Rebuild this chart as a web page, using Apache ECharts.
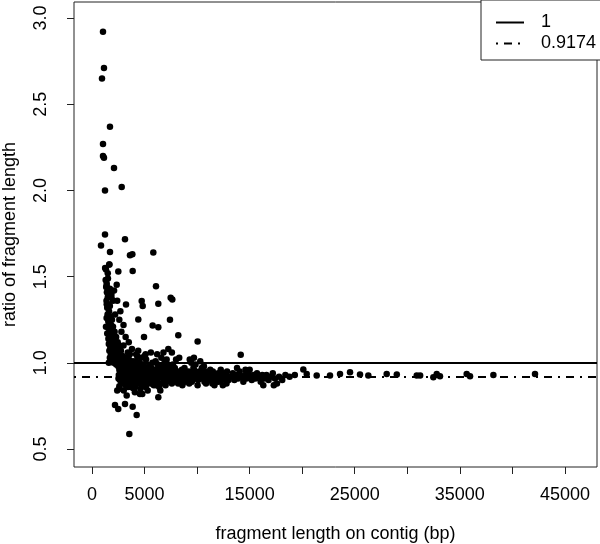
<!DOCTYPE html>
<html>
<head>
<meta charset="utf-8">
<script src="https://cdn.jsdelivr.net/npm/echarts@6/dist/echarts.min.js"></script>
<style>html,body{margin:0;padding:0;background:#fff}#c{width:600px;height:544px}</style>
</head>
<body>
<div id="c"></div>
<script>
// x tick values and labels (fragment length, bp)
const xTicks = [0, 5000, 10000, 15000, 20000, 25000, 30000, 35000, 40000, 45000];
const xTickLabels = [0, 5000, 15000, 25000, 35000, 45000];
// y tick values (ratio)
const yTicks = [0.5, 1.0, 1.5, 2.0, 2.5, 3.0];
// reference lines
const refLineNames = ['1', '0.9174'];
const refLineValues = [1, 0.9174];

// high-ratio points at short fragments
const outlierPoints = [
  [1047,2.92],[1140,2.71],[950,2.65],[1710,2.37],[1047,2.27],[1047,2.20],[1140,2.19],
  [2093,2.13],[1237,2.00],[2826,2.02],[1237,1.744],[3140,1.717],[856,1.68],[1713,1.643],
  [3615,1.624],[3840,1.63],[5833,1.64],[1330,1.542],[1650,1.57],[2505,1.53],[3870,1.533],
  [1520,1.49],[1400,1.446],[1700,1.43],[2350,1.453],[6090,1.444],[1520,1.40],[1850,1.38],
  [1400,1.34],[2000,1.36],[3235,1.339],[4730,1.359],[4825,1.33],[6310,1.343],[7485,1.378],
  [7640,1.368],[4405,1.252],[5770,1.217],[6310,1.207],[7420,1.25],[4950,1.15],[8210,1.16],
  [10050,1.124],[14150,1.047],[7260,1.08],[7600,1.06]
];
// dense stack just above the lines
const stackPoints = [
  [1300,1.48],[1350,1.44],[1420,1.41],[1500,1.38],[1380,1.36],[1560,1.34],[1450,1.32],[1700,1.33],
  [1620,1.30],[1480,1.28],[1750,1.27],[1390,1.26],[1900,1.25],[1550,1.24],[1680,1.23],[1820,1.22],
  [1330,1.21],[2000,1.21],[1600,1.20],[1750,1.19],[1900,1.18],[2150,1.18],[1450,1.17],[1680,1.16],
  [2050,1.16],[2300,1.15],[1560,1.14],[1850,1.14],[2200,1.13],[1700,1.12],[2000,1.12],[2450,1.12],
  [1600,1.11],[1900,1.10],[2250,1.10],[2600,1.10],[1750,1.09],[2100,1.08],[2400,1.08],[1650,1.07],
  [1950,1.07],[2750,1.07],[2250,1.06],[1800,1.05],[2550,1.05],[2000,1.04],[2350,1.04],[2900,1.04],
  [1700,1.03],[2150,1.03],[2650,1.02],[1900,1.02],[2450,1.01],[3100,1.01],[2050,1.00],[2800,1.00],
  [1600,1.00],[2300,0.99],[3300,0.99],[1500,1.52],[1250,1.55],[1650,1.57],[1400,1.46],[2100,1.42],
  [1850,1.40],[2400,1.36],[2700,1.30],[2200,1.28],[2600,1.25],[3000,1.22],[2800,1.18],[3200,1.15],
  [3500,1.12],[3000,1.10],[3800,1.08],[3400,1.06],[4200,1.05],[3600,1.05],[4400,1.07],[5000,1.04],
  [5600,1.06],[6200,1.05],[6800,1.06],[8300,1.03],[9300,1.02],[10300,1.01],[9700,1.03],[8000,1.02]
];
// low-ratio points
const lowPoints = [
  [2600,0.865],[3930,0.853],[4785,0.82],[6310,0.80],[2190,0.756],[2500,0.733],[3140,0.762],
  [3870,0.746],[4250,0.698],[3550,0.587],[2400,0.84],[3300,0.81]
];
// main band around the 0.9174 line
const bandPoints = [
  [2500,0.98],[2550,0.93],[2600,0.96],[2650,0.90],[2700,0.99],[2750,0.94],[2800,0.88],[2850,0.97],
  [2900,0.92],[2950,1.02],[3000,0.95],[3050,0.90],[3100,0.98],[3150,0.93],[3200,0.87],[3250,0.96],
  [3300,1.03],[3350,0.91],[3400,0.94],[3450,0.99],[3500,0.89],[3550,0.95],[3600,0.92],[3650,1.00],
  [3700,0.86],[3750,0.94],[3800,0.97],[3850,0.91],[3900,1.01],[3950,0.93],[4000,0.88],
  [2520,0.91],[2580,1.01],[2680,0.95],[2780,1.03],[2820,0.92],[2980,0.89],[3080,0.96],[3180,1.00],
  [3280,0.93],[3380,0.97],[3480,0.92],[3580,0.98],[3680,0.94],[3780,0.90],[3880,0.95],[3980,0.97],
  [2620,0.85],[3020,0.84],[3420,0.86],[3820,0.87],[2720,0.91],[2920,0.95],[3120,0.91],[3320,0.95],
  [3520,1.02],[3720,0.99],[3920,0.96],
  [4050,0.94],[4100,0.98],[4150,0.91],[4200,1.01],[4250,0.95],[4300,0.89],[4350,0.93],[4400,0.97],
  [4450,0.92],[4500,1.00],[4550,0.88],[4600,0.94],[4650,0.96],[4700,0.91],[4750,0.99],[4800,0.93],
  [4850,0.87],[4900,0.95],[4950,0.92],[5000,0.97],[5050,0.90],[5100,0.94],[5150,1.02],[5200,0.92],
  [5250,0.96],[5300,0.89],[5350,0.93],[5400,0.98],[5450,0.91],[5500,0.95],[5550,0.88],[5600,0.93],
  [5650,0.97],[5700,0.92],[5750,1.00],[5800,0.90],[5850,0.94],[5900,0.96],[5950,0.91],
  [4120,0.86],[4380,0.90],[4620,0.85],[4880,0.99],[5120,0.86],[5380,0.95],[5620,0.90],[5880,0.87],
  [4220,0.93],[4480,0.95],[4720,0.94],[4980,0.90],[5220,0.94],[5480,0.93],[5720,0.95],[5980,0.93],
  [4300,1.04],[4700,1.03],[5100,1.05],[4080,0.83],[4560,0.82],[5300,0.84],
  [6000,0.94],[6080,0.91],[6150,0.96],[6230,0.89],[6300,0.93],[6380,0.98],[6450,0.92],[6530,0.95],
  [6600,0.88],[6680,0.94],[6750,0.91],[6830,0.97],[6900,0.93],[6980,0.90],[7050,0.95],[7130,0.92],
  [7200,0.99],[7280,0.91],[7350,0.94],[7430,0.89],[7500,0.93],[7580,0.96],[7650,0.92],[7730,0.90],
  [7800,0.94],[7880,0.97],[7950,0.91],[8030,0.93],[8100,0.89],[8180,0.95],[8250,0.92],[8330,0.94],
  [8400,0.90],[8480,0.93],[8550,0.96],[8630,0.91],[8700,0.94],[8780,0.92],[8850,0.89],[8930,0.95],
  [6120,0.87],[6400,0.86],[6700,0.98],[7000,0.87],[7300,0.97],[7600,0.88],[7900,0.95],[8200,0.88],
  [8500,0.91],[8800,0.97],[6250,0.99],[6900,1.00],[6500,0.84],[7700,0.99],[6050,1.01],[7100,1.02],
  [6600,1.03],[8600,0.87],
  [9000,0.93],[9100,0.90],[9200,0.95],[9300,0.92],[9400,0.94],[9500,0.89],[9600,0.93],[9700,0.96],
  [9800,0.91],[9900,0.94],[10000,0.92],[10100,0.90],[10200,0.95],[10300,0.93],[10400,0.91],[10500,0.94],
  [10600,0.92],[10700,0.89],[10800,0.95],[10900,0.93],[11000,0.91],[11100,0.94],[11200,0.92],[11300,0.90],
  [11400,0.93],[11500,0.95],[11600,0.91],[11700,0.93],[11800,0.89],[11900,0.92],[12000,0.94],[12100,0.91],
  [12200,0.93],[12300,0.90],[12400,0.92],[12500,0.94],[12600,0.91],[12700,0.93],[12800,0.88],[12900,0.92],
  [13000,0.90],[9250,0.88],[9650,0.97],[10050,0.87],[10450,0.97],[10850,0.88],[11250,0.96],[11650,0.87],
  [12050,0.89],[12450,0.87],[12850,0.95],[9850,0.99],[10650,0.98],[11450,0.88],[12250,0.96],[9450,1.00],
  [13200,0.92],[13400,0.94],[13550,0.90],[13700,0.93],[13900,0.91],[14050,0.95],[14200,0.92],[14400,0.89],
  [14550,0.93],[14700,0.91],[14900,0.94],[15050,0.92],[15200,0.90],[15400,0.93],[15550,0.91],[15700,0.94],
  [15900,0.92],[16050,0.89],[16200,0.93],[16400,0.91],[16600,0.93],[16800,0.90],[17000,0.92],[17200,0.94],
  [17400,0.91],[17600,0.88],[17800,0.92],[18100,0.90],[18400,0.93],[16300,0.87],[17300,0.87],[15000,0.96],
  [13800,0.97],[14600,0.96],[18800,0.92],[19300,0.93]
];
// sparse tail at long fragments
const tailPoints = [
  [20105,0.961],[20430,0.936],[21380,0.926],[22645,0.926],[23600,0.936],[24550,0.946],[25500,0.932],
  [26290,0.926],[28040,0.936],[29000,0.932],[30900,0.926],[31220,0.926],[32480,0.917],[32800,0.936],
  [33110,0.923],[35650,0.936],[35970,0.923],[38190,0.930],[42150,0.936]
];

const font = 'Liberation Sans, Arial, Helvetica, sans-serif';
const fs = 18;
const chart = echarts.init(document.getElementById('c'), null, {renderer: 'canvas'});
const scatterStyle = {type: 'scatter', symbol: 'circle', symbolSize: 6.5, itemStyle: {color: '#000', opacity: 1}, silent: true};
const dashPatterns = ['solid', [2, 6, 8, 6]];

chart.setOption({
  animation: false,
  backgroundColor: '#fff',
  grid: {left: 74, top: 2, right: 3, bottom: 77, containLabel: false, outerBoundsMode: 'none',
    show: true, borderColor: '#222', borderWidth: 1, backgroundColor: 'transparent'},
  legend: {
    data: refLineNames,
    orient: 'vertical',
    left: 481, top: 0,
    padding: [12, 5, 6, 14],
    itemWidth: 28, itemHeight: 14, itemGap: 0,
    backgroundColor: '#fff', borderColor: '#222', borderWidth: 1,
    itemStyle: {opacity: 0},
    textStyle: {fontSize: fs, lineHeight: 21, fontFamily: font, color: '#000', padding: [0, 0, 0, 12]}
  },
  xAxis: {
    type: 'value', min: -1712, max: 48050,
    axisLine: {show: false, onZero: false},
    splitLine: {show: false},
    axisTick: {show: true, customValues: xTicks, length: 7, lineStyle: {color: '#222'}},
    axisLabel: {customValues: xTickLabels, fontSize: fs, fontFamily: font, color: '#000', margin: 19,
      formatter: v => String(v)},
    name: 'fragment length on contig (bp)', nameLocation: 'middle', nameGap: 58,
    nameTextStyle: {fontSize: fs, fontFamily: font, color: '#000'}
  },
  yAxis: {
    type: 'value', min: 0.396, max: 3.093,
    axisLine: {show: false, onZero: false},
    splitLine: {show: false},
    axisTick: {show: true, customValues: yTicks, length: 7, lineStyle: {color: '#222'}},
    axisLabel: {customValues: yTicks, rotate: 90, fontSize: fs, fontFamily: font, color: '#000', margin: 24,
      formatter: v => v.toFixed(1)},
    name: 'ratio of fragment length', nameLocation: 'middle', nameGap: 55, nameRotate: 90,
    nameTextStyle: {fontSize: fs, fontFamily: font, color: '#000'}
  },
  series: [
    Object.assign({name: 'outliers', data: outlierPoints}, scatterStyle),
    Object.assign({name: 'stack', data: stackPoints}, scatterStyle),
    Object.assign({name: 'low', data: lowPoints}, scatterStyle),
    Object.assign({name: 'band', data: bandPoints}, scatterStyle),
    Object.assign({name: 'tail', data: tailPoints}, scatterStyle),
    ...refLineNames.map((n, i) => ({
      name: n, type: 'line', data: [], symbol: 'none', showSymbol: false,
      lineStyle: {color: '#000', width: 1.5, type: dashPatterns[i]},
      itemStyle: {color: '#000'},
      markLine: {
        silent: true, symbol: 'none', label: {show: false},
        lineStyle: {color: '#000', width: 2, type: dashPatterns[i]},
        data: [{yAxis: refLineValues[i]}]
      }
    }))
  ]
});
</script>
</body>
</html>
